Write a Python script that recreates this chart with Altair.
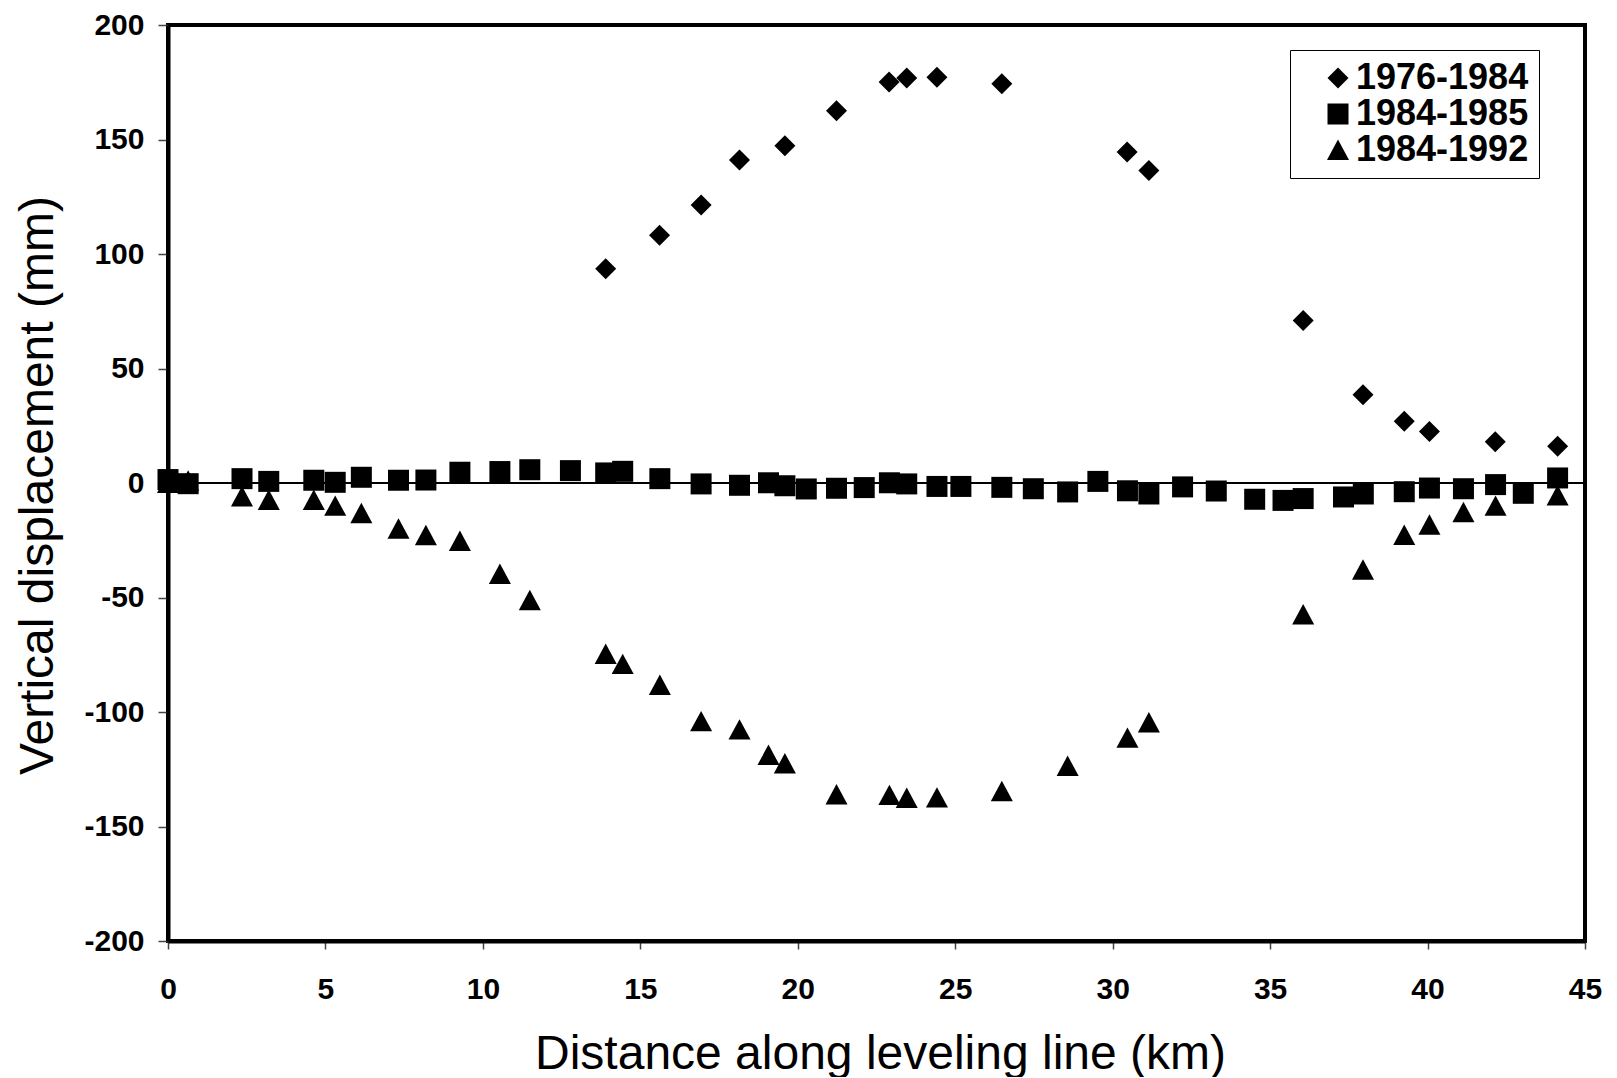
import altair as alt
import pandas as pd

series_names = ["1976-1984", "1984-1985", "1984-1992"]

x_7684 = [13.9, 15.61, 16.93, 18.15, 19.59, 21.23, 22.9, 23.46, 24.42, 26.48,
          30.46, 31.15, 36.05, 37.95, 39.26, 40.06, 42.15, 44.13]
y_7684 = [93.6, 108.2, 121.4, 141.0, 147.3, 162.6, 175.1, 176.9, 177.2, 174.3,
          144.5, 136.5, 71.0, 38.5, 27.0, 22.5, 18.0, 16.0]

x_8485 = [0.0, 0.64, 2.35, 3.2, 4.63, 5.31, 6.14, 7.32, 8.19, 9.27, 10.54, 11.49,
          12.78, 13.9, 14.44, 15.62, 16.93, 18.15, 19.07, 19.59, 20.27, 21.23,
          22.11, 22.91, 23.46, 24.42, 25.18, 26.48, 27.48, 28.57, 29.53, 30.47,
          31.15, 32.22, 33.29, 34.51, 35.41, 36.05, 37.33, 37.96, 39.26, 40.06,
          41.14, 42.16, 43.04, 44.13]
y_8485 = [1.5, -0.3, 1.9, 0.7, 1.2, 0.3, 2.5, 1.2, 1.3, 4.7, 5.0, 5.8,
          5.4, 4.4, 5.1, 1.9, -0.4, -1.0, 0.1, -1.2, -2.6, -2.3,
          -2.0, 0.1, -0.4, -1.5, -1.5, -1.9, -2.5, -3.9, 0.7, -3.4,
          -4.8, -1.7, -3.5, -7.1, -7.6, -6.8, -6.1, -4.8, -3.8, -2.2,
          -2.5, -0.7, -4.5, 2.2]

x_8492 = [0.0, 0.64, 2.35, 3.2, 4.63, 5.31, 6.14, 7.32, 8.19, 9.27, 10.54, 11.49,
          13.9, 14.44, 15.62, 16.93, 18.15, 19.07, 19.59, 21.23, 22.91, 23.46,
          24.42, 26.48, 28.57, 30.47, 31.15, 36.05, 37.95, 39.26, 40.06, 41.14,
          42.16, 44.13]
y_8492 = [0.0, 1.0, -5.9, -7.4, -7.4, -10.0, -13.2, -20.0, -22.8, -25.3, -39.7, -51.2,
          -74.7, -79.1, -88.2, -104.1, -107.7, -118.8, -122.5, -136.0, -136.3, -137.6,
          -137.4, -134.6, -123.6, -111.3, -104.6, -57.4, -37.9, -22.7, -18.2, -12.8,
          -10.0, -5.5]

x_ticks = [0, 5, 10, 15, 20, 25, 30, 35, 40, 45]
y_ticks = [-200, -150, -100, -50, 0, 50, 100, 150, 200]

rows = []
for name, xs, ys in [(series_names[0], x_7684, y_7684),
                     (series_names[1], x_8485, y_8485),
                     (series_names[2], x_8492, y_8492)]:
    for xv, yv in zip(xs, ys):
        rows.append({"dist": xv, "disp": yv, "series": name})
df = pd.DataFrame(rows)

FONT = "Liberation Sans"
tri = "M0,-1L1.05,0.95L-1.05,0.95Z"

x_enc = alt.X(
    "dist:Q",
    scale=alt.Scale(domain=[0, 45], nice=False, zero=False),
    axis=alt.Axis(
        values=x_ticks, title="Distance along leveling line (km)", grid=False,
        labelFont=FONT, labelFontSize=30, labelFontWeight="bold", labelColor="black",
        labelPadding=25, labelFlush=False, labelOverlap=False,
        tickSize=8, tickColor="#444444", tickWidth=1.5,
        domainColor="black", domainWidth=4,
        titleFont=FONT, titleFontSize=48, titleFontWeight="normal", titleColor="black",
        titleX=712, titleY=127, titleBaseline="alphabetic",
    ),
)
y_enc = alt.Y(
    "disp:Q",
    scale=alt.Scale(domain=[-200, 200], nice=False),
    axis=alt.Axis(
        values=y_ticks, title="Vertical displacement (mm)", grid=False,
        labelFont=FONT, labelFontSize=30, labelFontWeight="bold", labelColor="black",
        labelPadding=14, labelOverlap=False, labelExpr="toString(datum.value)",
        tickSize=10, tickColor="#444444", tickWidth=1.5,
        domainColor="black", domainWidth=4,
        titleFont=FONT, titleFontSize=48, titleFontWeight="normal", titleColor="black",
        titleX=-130, titleY=460, titleBaseline="middle",
    ),
)

points = alt.Chart(df).mark_point(filled=True, opacity=1, color="black", strokeWidth=0).encode(
    x=x_enc,
    y=y_enc,
    shape=alt.Shape(
        "series:N",
        scale=alt.Scale(domain=series_names, range=["diamond", "square", tri]),
        legend=alt.Legend(
            title=None, orient="none", legendX=1122, legendY=25,
            strokeColor="black", fillColor="white", padding=10,
            symbolOffset=20, symbolSize=441, symbolFillColor="black",
            symbolStrokeWidth=0, labelFont=FONT, labelFontSize=36,
            labelFontWeight="bold", labelColor="black", labelOffset=0,
            labelLimit=500, rowPadding=0,
            labelExpr="datum.label + '  '",
        ),
    ),
    size=alt.value(441),
)

zero = alt.Chart(pd.DataFrame({"v": [0]})).mark_rule(color="black", strokeWidth=2).encode(
    y=alt.datum(0)
)

chart = alt.layer(zero, points).properties(
    width=1417, height=916,
    padding={"left": 160, "top": 17, "right": 18, "bottom": 136},
    autosize=alt.AutoSizeParams(type="none"),
    background="white",
).configure_view(stroke="black", strokeWidth=4)

chart.save("out.html", embed_options={"renderer": "svg", "actions": False})
